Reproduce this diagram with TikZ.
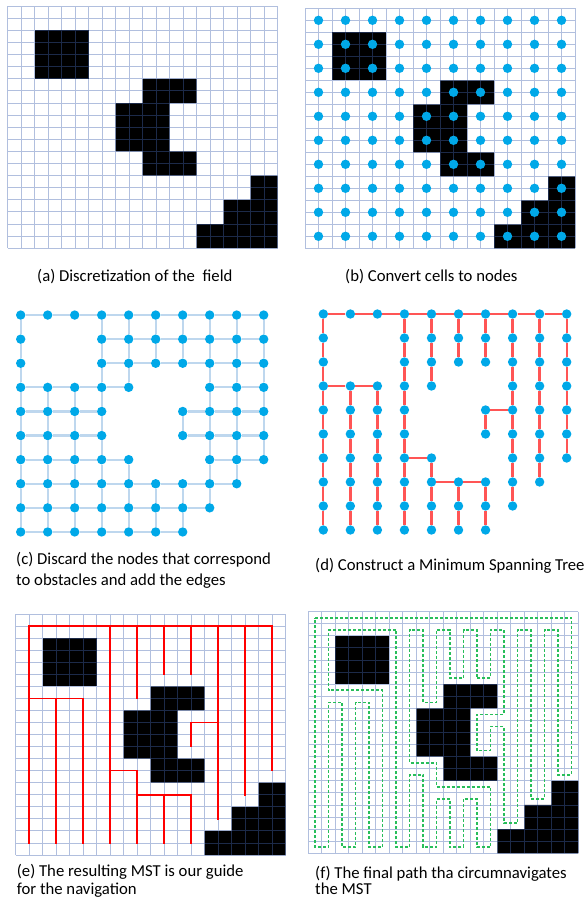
\documentclass[tikz,border=0pt]{standalone}
\usepackage{fontspec}
\setmainfont{Carlito}
\definecolor{gridblue}{RGB}{68,102,176}
\definecolor{dotblue}{RGB}{0,168,232}
\definecolor{edgeblue}{RGB}{190,215,238}
\definecolor{mstred}{RGB}{255,85,85}
\definecolor{pathgreen}{RGB}{40,190,90}
\tikzset{
 gridl/.style={draw=gridblue, draw opacity=0.42, line width=0.9pt},
 dotn/.style={circle, fill=dotblue, inner sep=0pt, minimum size=9.4pt},
 edgec/.style={draw=edgeblue, line width=2.2pt},
 mstd/.style={draw=mstred, line width=2.3pt},
 mste/.style={draw=red, line width=1.6pt, line cap=rect},
 pathf/.style={draw=pathgreen, line width=1.6pt, dash pattern=on 3pt off 2pt},
 capt/.style={anchor=base west, inner sep=0pt, font=\fontsize{16.7}{20}\selectfont},
}
\newcommand\markobst[2]{\expandafter\def\csname ob-#1-#2\endcsname{}}
\markobst{1}{1}\markobst{2}{1}\markobst{1}{2}\markobst{2}{2}
\markobst{5}{3}\markobst{6}{3}\markobst{4}{4}\markobst{5}{4}
\markobst{4}{5}\markobst{5}{5}\markobst{5}{6}\markobst{6}{6}
\markobst{9}{7}\markobst{8}{8}\markobst{9}{8}\markobst{7}{9}
\markobst{8}{9}\markobst{9}{9}
\newcommand\drawobstacles{%
 \fill (2,2) rectangle (6,6);
 \fill (10,6) -- (14,6) -- (14,8) -- (12,8) -- (12,12) -- (14,12) -- (14,14)
   -- (10,14) -- (10,12) -- (8,12) -- (8,8) -- (10,8) -- cycle;
 \fill (18,14) -- (20,14) -- (20,20) -- (14,20) -- (14,18) -- (16,18)
   -- (16,16) -- (18,16) -- cycle;}
\newcommand\drawfield{\drawobstacles
 \draw[gridl] \foreach \k in {0,...,20}{(\k,0) -- (\k,20) (0,\k) -- (20,\k)};}
\newcommand\freenodes[1]{%
 \foreach \i in {0,...,9}{\foreach \j in {0,...,9}{%
  \ifcsname ob-\i-\j\endcsname\else
   \node[dotn] (#1-\i-\j) at (2*\i+1,2*\j+1) {};
  \fi}}}
\newcommand\hchain[4]{%
 \pgfmathtruncatemacro\chainend{#4-1}%
 \foreach \k in {#3,...,\chainend}{\pgfmathtruncatemacro\kk{\k+1}%
  \draw[mstd] (#1-\k-#2) -- (#1-\kk-#2);}}
\newcommand\vchain[4]{%
 \pgfmathtruncatemacro\chainend{#4-1}%
 \foreach \k in {#3,...,\chainend}{\pgfmathtruncatemacro\kk{\k+1}%
  \draw[mstd] (#1-#2-\k) -- (#1-#2-\kk);}}
\begin{document}
\begin{tikzpicture}[x=1pt,y=-1pt]
\useasboundingbox (0,0) rectangle (585,899);
% (a)
\begin{scope}[xshift=7.5pt,yshift=-6.2pt,x=13.5pt,y=-12.1pt]
 \drawfield
\end{scope}
\node[capt] (capa) at (37,281) {(a) Discretization of the\ \ field};
% (b)
\begin{scope}[xshift=305pt,yshift=-8.3pt,x=13.5pt,y=-12.0pt]
 \drawfield
 \foreach \i in {0,...,9}{\foreach \j in {0,...,9}{%
  \node[dotn] (b-\i-\j) at (2*\i+1,2*\j+1) {};}}
\end{scope}
\node[capt] (capb) at (345,281) {(b) Convert cells to nodes};
% (c)
\begin{scope}[xshift=7.2pt,yshift=-303pt,x=13.5pt,y=-12.05pt]
 \freenodes{c}
 \foreach \i in {0,...,9}{\foreach \j in {0,...,9}{%
  \pgfmathtruncatemacro\ii{\i+1}\pgfmathtruncatemacro\jj{\j+1}%
  \ifcsname ob-\i-\j\endcsname\else
   \ifnum\i<9 \ifcsname ob-\ii-\j\endcsname\else\draw[edgec] (c-\i-\j) -- (c-\ii-\j);\fi\fi
   \ifnum\j<9 \ifcsname ob-\i-\jj\endcsname\else\draw[edgec] (c-\i-\j) -- (c-\i-\jj);\fi\fi
  \fi}}
\end{scope}
\node[capt] (capc1) at (16,564) {(c) Discard the nodes that correspond};
\node[capt] (capc2) at (16,585) {to obstacles and add the edges};
% (d)
\begin{scope}[xshift=309.8pt,yshift=-302pt,x=13.52pt,y=-12.0pt]
 \freenodes{d}
 \hchain{d}{0}{0}{9}\hchain{d}{3}{0}{2}\hchain{d}{6}{3}{4}
 \hchain{d}{7}{4}{6}\hchain{d}{4}{6}{7}
 \vchain{d}{0}{0}{9}\vchain{d}{1}{3}{9}\vchain{d}{2}{3}{9}
 \vchain{d}{3}{0}{9}\vchain{d}{4}{0}{3}\vchain{d}{4}{6}{9}
 \vchain{d}{5}{0}{2}\vchain{d}{5}{7}{9}\vchain{d}{6}{0}{2}
 \vchain{d}{6}{4}{5}\vchain{d}{6}{7}{9}\vchain{d}{7}{0}{8}
 \vchain{d}{8}{0}{7}\vchain{d}{9}{0}{6}
\end{scope}
\node[capt] (capd) at (315,570) {(d) Construct a Minimum Spanning Tree};
% (e)
\begin{scope}[xshift=15.7pt,yshift=-614pt,x=13.5pt,y=-12.05pt]
 \drawfield
 \draw[mste] (1,19) -- (1,1) -- (19,1) -- (19,13);
 \draw[mste] (1,7) -- (5,7) -- (5,19);
 \draw[mste] (3,7) -- (3,19);
 \draw[mste] (7,1) -- (7,19);
 \draw[mste] (7,13) -- (9,13) -- (9,19);
 \draw[mste] (9,15) -- (13,15) -- (13,19);
 \draw[mste] (11,15) -- (11,19);
 \draw[mste] (9,1) -- (9,7);
 \draw[mste] (11,1) -- (11,5);
 \draw[mste] (13,1) -- (13,5);
 \draw[mste] (15,1) -- (15,17);
 \draw[mste] (15,9) -- (13,9) -- (13,11);
 \draw[mste] (17,1) -- (17,15);
\end{scope}
\node[capt] (cape1) at (16.7,876) {(e) The resulting MST is our guide};
\node[capt] (cape2) at (16.7,894) {for the navigation};
% (f)
\begin{scope}[xshift=308.3pt,yshift=-611.7pt,x=13.5pt,y=-12.08pt]
 \drawfield
 \draw[pathf] (0.5,0.5) -- (19.5,0.5) -- (19.5,13.5) -- (18.5,13.5) -- (18.5,1.5)
  -- (17.5,1.5) -- (17.5,15.5) -- (16.5,15.5) -- (16.5,1.5) -- (15.5,1.5)
  -- (15.5,17.5) -- (14.5,17.5) -- (14.5,9.5) -- (13.5,9.5) -- (13.5,11.5)
  -- (12.5,11.5) -- (12.5,8.5) -- (14.5,8.5) -- (14.5,1.5) -- (13.5,1.5)
  -- (13.5,5.5) -- (12.5,5.5) -- (12.5,1.5) -- (11.5,1.5) -- (11.5,5.5)
  -- (10.5,5.5) -- (10.5,1.5) -- (9.5,1.5) -- (9.5,7.5) -- (8.5,7.5)
  -- (8.5,1.5) -- (7.5,1.5) -- (7.5,12.5) -- (9.5,12.5) -- (9.5,14.5)
  -- (13.5,14.5) -- (13.5,19.5) -- (12.5,19.5) -- (12.5,15.5) -- (11.5,15.5)
  -- (11.5,19.5) -- (10.5,19.5) -- (10.5,15.5) -- (9.5,15.5) -- (9.5,19.5)
  -- (8.5,19.5) -- (8.5,13.5) -- (7.5,13.5) -- (7.5,19.5) -- (6.5,19.5)
  -- (6.5,1.5) -- (1.5,1.5) -- (1.5,6.5) -- (5.5,6.5) -- (5.5,19.5)
  -- (4.5,19.5) -- (4.5,7.5) -- (3.5,7.5) -- (3.5,19.5) -- (2.5,19.5)
  -- (2.5,7.5) -- (1.5,7.5) -- (1.5,19.5) -- (0.5,19.5) -- cycle;
\end{scope}
\node[capt] (capf1) at (315,878) {(f) The final path tha circumnavigates};
\node[capt] (capf2) at (315,894) {the MST};
\end{tikzpicture}
\end{document}
